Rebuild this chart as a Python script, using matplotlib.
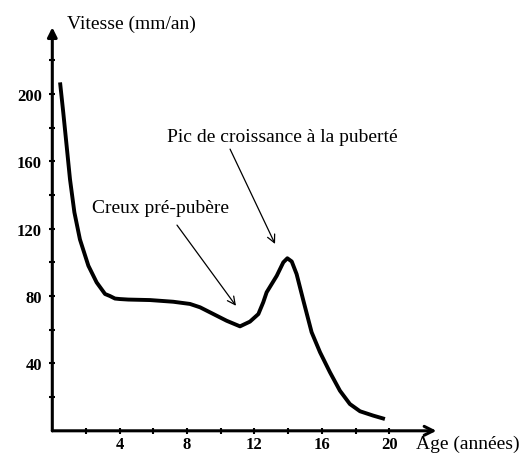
import matplotlib
matplotlib.use('Agg')
import matplotlib.pyplot as plt

# growth velocity curve
age = [0.46, 0.65, 0.85, 1.05, 1.31, 1.64, 2.14, 2.63, 3.13, 3.42, 3.72,
       4.02, 4.51, 5.8, 7.18, 8.17, 8.77, 9.56, 10.35, 11.14, 11.73, 12.23,
       12.52, 12.72, 13.32, 13.71, 13.95, 14.21, 14.5, 14.9, 15.39, 15.89,
       16.48, 17.07, 17.66, 18.26, 19.05, 19.74]
velocity = [206.8, 189, 169.2, 149.3, 129.7, 113.6, 98, 88.1, 81.2, 80.0,
            78.5, 78.2, 77.9, 77.6, 76.6, 75.3, 73.3, 69.3, 65.3, 62, 64.8,
            69.3, 76.3, 82.2, 92, 100, 102.4, 100.5, 93, 77.3, 58.5, 46.6,
            34.7, 23.8, 15.9, 11.6, 9, 7]

x_ticks = [2, 4, 6, 8, 10, 12, 14, 16, 18, 20]
y_ticks = [20, 40, 60, 80, 100, 120, 140, 160, 180, 200, 220]

plt.rcParams['font.family'] = ['Liberation Serif', 'DejaVu Serif']

fig = plt.figure(figsize=(5.23, 4.6), dpi=100, facecolor='white')
ax = fig.add_axes([0.1, 0.0613, 0.741, 0.879])
ax.set_xlim(0, 23)
ax.set_ylim(0, 240)
for s in ax.spines.values():
    s.set_visible(False)

# axes drawn as arrows
ax.annotate('', xy=(0, 239.5), xytext=(0, 0), xycoords='data',
            arrowprops=dict(arrowstyle='-|>', lw=2.2, color='black',
                            mutation_scale=14, shrinkA=0, shrinkB=0),
            annotation_clip=False)
ax.annotate('', xy=(22.8, 0), xytext=(0, 0), xycoords='data',
            arrowprops=dict(arrowstyle='->', lw=2.2, color='black',
                            mutation_scale=16, shrinkA=0, shrinkB=0),
            annotation_clip=False)

ax.plot(age, velocity, color='black', lw=2.8, solid_capstyle='butt',
        solid_joinstyle='round', zorder=3)

ax.set_xticks(x_ticks)
ax.set_xticklabels([str(t) if t % 4 == 0 else '' for t in x_ticks],
                   fontsize=12, fontweight='bold')
ax.set_yticks(y_ticks)
ax.set_yticklabels([str(t) if t % 40 == 0 else '' for t in y_ticks],
                   fontsize=12, fontweight='bold')
ax.tick_params(axis='both', direction='inout', length=5, width=1.5,
               color='black')
ax.tick_params(axis='x', pad=1.5)
ax.tick_params(axis='y', pad=5)

ax.text(0.85, 242, 'Vitesse (mm/an)', fontsize=14, ha='left', va='center',
        clip_on=False)
ax.text(21.6, -7.7, 'Age (années)', fontsize=14, ha='left', va='center',
        clip_on=False)
ax.text(6.8, 174.4, 'Pic de croissance à la puberté', fontsize=14,
        ha='left', va='center')
ax.text(2.35, 132.8, 'Creux pré-pubère', fontsize=14, ha='left', va='center')

ax.annotate('', xy=(13.22, 110.9), xytext=(10.55, 167.2),
            arrowprops=dict(arrowstyle='->', lw=0.9, color='black',
                            mutation_scale=14, shrinkA=0, shrinkB=0))
ax.annotate('', xy=(10.9, 74.2), xytext=(7.4, 122.1),
            arrowprops=dict(arrowstyle='->', lw=0.9, color='black',
                            mutation_scale=14, shrinkA=0, shrinkB=0))

fig.savefig('out.png', dpi=100, facecolor='white')
